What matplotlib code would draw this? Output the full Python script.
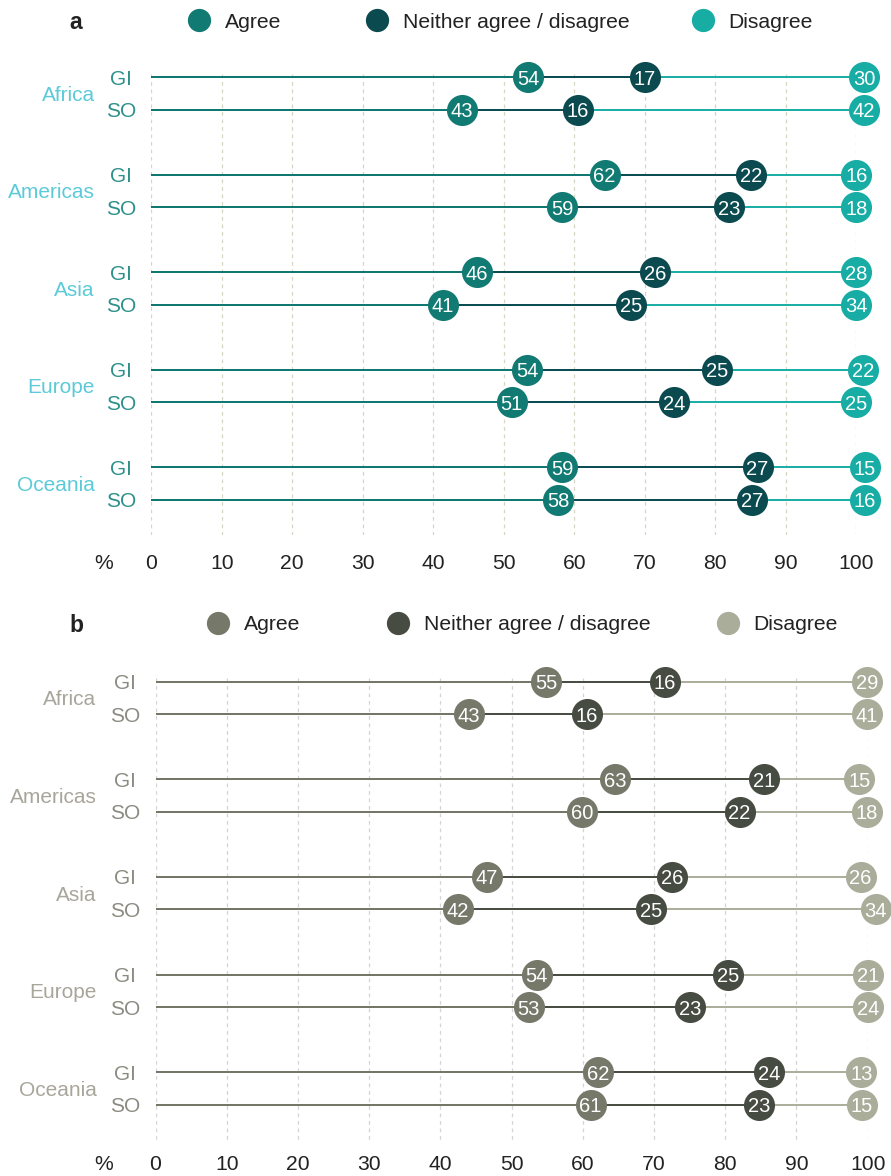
"""Agreement by region (GI vs SO) — two dot-strip panels."""

import matplotlib
matplotlib.use("Agg")
import matplotlib.pyplot as plt

plt.rcParams["font.family"] = ["Liberation Sans", "DejaVu Sans"]

regions = ["Africa", "Americas", "Asia", "Europe", "Oceania"]
rows = ["GI", "SO"]
ticks = list(range(0, 101, 10))

# panel a: printed shares (GI, SO for each region in order)
a_agree = [54, 43, 62, 59, 46, 41, 54, 51, 59, 58]
a_neither = [17, 16, 22, 23, 26, 25, 25, 24, 27, 27]
a_disagree = [30, 42, 16, 18, 28, 34, 22, 25, 15, 16]
# panel a: cumulative % where each dot sits
a_agree_cum = [53.5, 44.0, 64.3, 58.3, 46.2, 41.4, 53.3, 51.1, 58.3, 57.7]
a_neither_cum = [70.0, 60.5, 85.1, 82.0, 71.5, 68.0, 80.2, 74.1, 86.0, 85.2]
a_disagree_cum = [101.1, 101.1, 100.0, 100.0, 100.0, 100.0, 101.0, 100.0, 101.2, 101.2]

# panel b
b_agree = [55, 43, 63, 60, 47, 42, 54, 53, 62, 61]
b_neither = [16, 16, 21, 22, 26, 25, 25, 23, 24, 23]
b_disagree = [29, 41, 15, 18, 26, 34, 21, 24, 13, 15]
b_agree_cum = [54.9, 44.0, 64.5, 59.9, 46.5, 42.5, 53.5, 52.4, 62.2, 61.1]
b_neither_cum = [71.5, 60.6, 85.4, 82.0, 72.5, 69.6, 80.4, 75.1, 86.2, 84.7]
b_disagree_cum = [99.9, 99.9, 98.8, 99.9, 99.0, 101.1, 100.0, 100.0, 99.1, 99.2]

W, H = 891, 1176


def panel(fig, box, vals, cums, colors, region_col, row_col, grid_col, lab_x, pad):
    left, top, right, bottom = box
    ax = fig.add_axes([left / W, 1 - bottom / H, (right - left) / W, (bottom - top) / H])
    ax.set_xlim(0, 100)
    ax.set_ylim(14.09, -0.6)
    for s in ax.spines.values():
        s.set_visible(False)
    ax.set_yticks([])
    ax.set_xticks(ticks)
    ax.tick_params(axis="x", length=0, labelsize=15.2, pad=pad, labelcolor="#222222")
    ax.vlines(ticks, -0.1, 14.09, color=grid_col, lw=0.9, ls=(0, (3, 3)), zorder=1)

    y = [3 * (i // 2) + (i % 2) for i in range(len(vals[0]))]
    # lines from 0: the widest drawn first so each segment keeps its colour
    for cum, col in zip(cums[::-1], colors[::-1]):
        ax.hlines(y, 0, cum, color=col, lw=1.4, zorder=2)
    for val, cum, col in zip(vals, cums, colors):
        ax.scatter(cum, y, s=500, color=col, zorder=3, clip_on=False, linewidths=0)
        for v, xx, yy in zip(val, cum, y):
            ax.text(xx, yy, str(v), color="white", fontsize=14.5, ha="center",
                    va="center_baseline", zorder=4, clip_on=False)

    reg_x, row_x = lab_x
    for g, reg in enumerate(regions):
        ax.text(reg_x, 3 * g + 0.5, reg, color=region_col, fontsize=15, ha="right",
                va="center_baseline", clip_on=False)
        for k, r in enumerate(rows):
            ax.text(row_x, 3 * g + k, r, color=row_col, fontsize=15, ha="center",
                    va="center_baseline", clip_on=False)
    return ax


fig = plt.figure(figsize=(W / 100, H / 100), dpi=100)

col_a = ["#117a73", "#0b4b50", "#17aca4"]
col_b = ["#76796a", "#474c43", "#abad9b"]

panel(fig, (151.3, 57.5, 856.3, 535.0),
      [a_agree, a_neither, a_disagree], [a_agree_cum, a_neither_cum, a_disagree_cum],
      col_a, "#5ccad8", "#2e908b", "#d9d5c4", (-8.0, -4.3), 13.5)
panel(fig, (155.5, 662.2, 867.7, 1140.1),
      [b_agree, b_neither, b_disagree], [b_agree_cum, b_neither_cum, b_disagree_cum],
      col_b, "#a8a69b", "#8c8b82", "#d4d4d4", (-8.3, -4.3), 11.0)

# overlay in pixel coordinates for legends and panel letters
ov = fig.add_axes([0, 0, 1, 1])
ov.set_xlim(0, W)
ov.set_ylim(H, 0)
ov.axis("off")
ov.patch.set_alpha(0)

legend_names = ["Agree", "Neither agree / disagree", "Disagree"]
for letter, ly, cols, cx in [("a", 20, col_a, [199, 376.7, 702.7]),
                             ("b", 623, col_b, [217.7, 397.7, 727.7])]:
    ov.text(76, ly, letter, fontsize=16.5, fontweight="bold", color="#222222",
            ha="center", va="center_baseline")
    for name, c, x in zip(legend_names, cols, cx):
        ov.scatter([x], [ly], s=280, color=c, linewidths=0)
        ov.text(x + 26, ly, name, fontsize=15.2, color="#222222", ha="left",
                va="center_baseline")

ov.text(104, 561.7, "%", fontsize=15.2, color="#222222", ha="center", va="center_baseline")
ov.text(104, 1163, "%", fontsize=15.2, color="#222222", ha="center", va="center_baseline")

fig.savefig("out.png", dpi=100)
